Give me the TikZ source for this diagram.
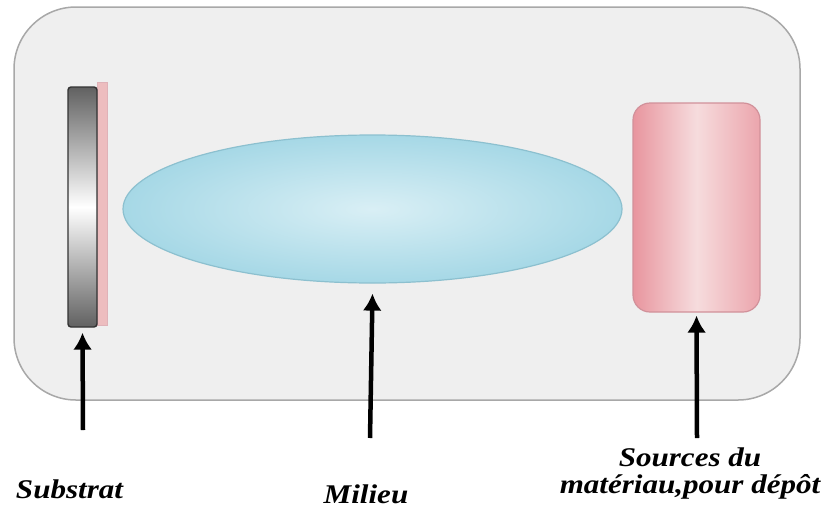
\documentclass[tikz,border=0pt]{standalone}
\usepackage{fontspec}
\setmainfont{Liberation Serif}
\newfontfamily\lblfont[FakeStretch=1.15]{Liberation Serif}
\usetikzlibrary{shapes.geometric,arrows.meta}
\definecolor{chamberfill}{HTML}{EFEFEF}
\definecolor{chamberline}{HTML}{A8A8A8}
\definecolor{medin}{HTML}{D9EFF5}
\definecolor{medout}{HTML}{A6D8E6}
\definecolor{medline}{HTML}{8CC0CF}
\definecolor{srcA}{HTML}{E8959E}
\definecolor{srcB}{HTML}{F6DCDD}
\definecolor{srcline}{HTML}{D1919A}
\definecolor{strip}{HTML}{EDBDBF}
\begin{document}
\begin{tikzpicture}[x=1pt,y=-1pt,
  lbl/.style={font=\lblfont\fontsize{27}{27}\selectfont\bfseries\itshape, align=center, inner sep=0pt, anchor=base},
  arr/.style={-{Latex[length=17pt,width=19pt]}, line width=4.5pt, black}]
\useasboundingbox (0,0) rectangle (826,530);
% chamber
\draw[draw=chamberline, fill=chamberfill, line width=1.5pt, rounded corners=62pt] (14,7) rectangle (800,400);
% substrate
\fill[strip, draw=srcline!70] (97,82) rectangle (107,325);
\node[draw=black!80, line width=1.4pt, rounded corners=3pt, minimum width=29pt, minimum height=240pt,
  top color=black!62, bottom color=black!62, middle color=white, inner sep=0pt] (sub) at (82.5,207) {};
% medium
\node[ellipse, draw=medline, line width=1.2pt, minimum width=499pt, minimum height=148pt,
  inner sep=0pt, inner color=medin, outer color=medout] (mil) at (372.5,209) {};
% source
\node[draw=srcline, line width=1.2pt, rounded corners=17pt, minimum width=127pt, minimum height=209pt,
  inner sep=0pt, left color=srcA, right color=srcA!85!white, middle color=srcB] (src) at (696.5,207.5) {};
% labels
\node[lbl] (tsub) at (69.5,498) {Substrat};
\node[lbl] (tmil) at (366,503) {Milieu};
\node[lbl] (tsrc) at (690,493) {Sources du\\matériau,pour dépôt};
% arrows
\coordinate (asub) at (83,430);
\coordinate (amil) at (370,438);
\coordinate (asrc) at (697,438);
\draw[arr] (asub) -- ([yshift=-5pt]sub.south);
\draw[arr] (amil) -- ([yshift=-10pt]mil.south);
\draw[arr] (asrc) -- ([yshift=-3pt]src.south);
\end{tikzpicture}
\end{document}
